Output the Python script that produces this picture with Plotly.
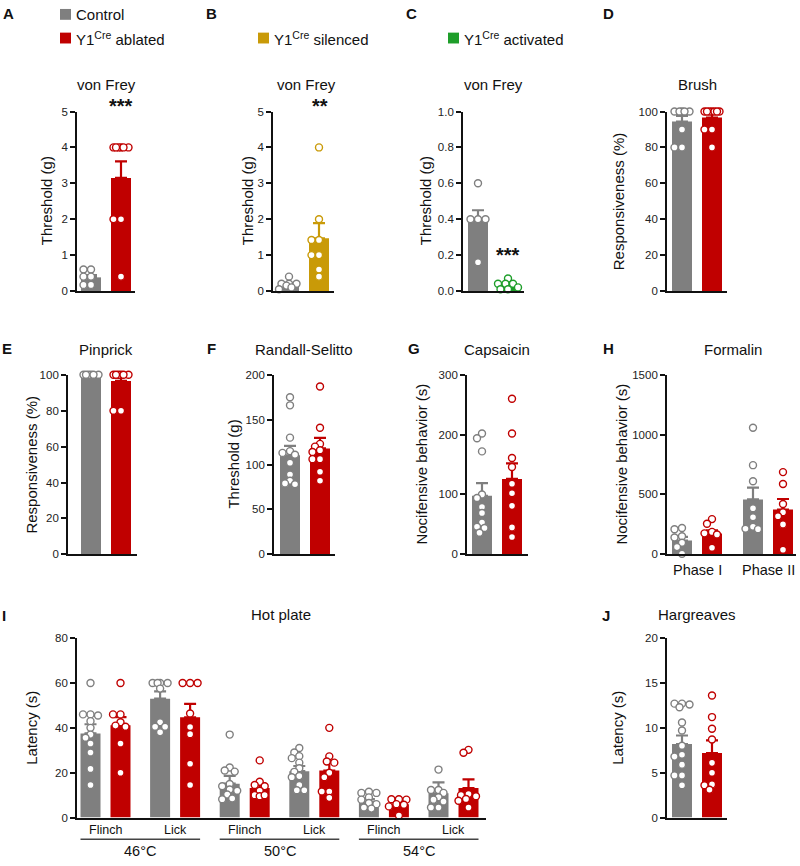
import plotly.graph_objects as go

W, H = 800, 866
FONT = "Liberation Sans, Arial, Helvetica, sans-serif"
GREY = "#7f7f7f"
RED = "#c00000"
GOLD = "#c99a08"
GREEN = "#1e9e2a"

# ---------------- data ----------------
# A  von Frey, ablation
a_ctrl_pts = [0.6, 0.6, 0.4, 0.4, 0.17, 0.17]
a_abl_pts = [4.0, 4.0, 4.0, 4.0, 4.0, 4.0, 2.0, 2.0, 0.4]
a_means = [0.38, 3.15]
a_sems = [0.06, 0.46]
# B  von Frey, silenced
b_ctrl_pts = [0.4, 0.2, 0.2, 0.2, 0.15, 0.1, 0.05]
b_sil_pts = [4.0, 2.0, 1.42, 1.42, 1.0, 1.0, 0.6, 0.4]
b_means = [0.17, 1.47]
b_sems = [0.05, 0.42]
# C  von Frey, activated
c_ctrl_pts = [0.6, 0.4, 0.4, 0.4, 0.16]
c_act_pts = [0.07, 0.04, 0.04, 0.04, 0.02, 0.01, 0.01]
c_means = [0.39, 0.033]
c_sems = [0.06, 0.01]
# D  Brush
d_ctrl_pts = [100, 100, 100, 100, 100, 90, 80, 80]
d_abl_pts = [100, 100, 100, 100, 100, 100, 100, 90, 90, 80]
d_means = [94.4, 96.6]
d_sems = [3.2, 2.2]
# E  Pinprick
e_ctrl_pts = [100, 100, 100, 100, 100, 100]
e_abl_pts = [100, 100, 100, 100, 100, 100, 80, 80]
e_means = [100, 96.6]
e_sems = [0, 2.4]
# F  Randall-Selitto
f_ctrl_pts = [175, 166, 130, 115, 113, 111, 102, 89, 82, 79, 78]
f_abl_pts = [187, 141, 123, 120, 116, 114, 106, 106, 92, 82]
f_means = [110.3, 118.0]
f_sems = [10.6, 11.7]
# G  Capsaicin
g_ctrl_pts = [202, 194, 172, 100, 94, 79, 69, 53, 46, 44, 36]
g_abl_pts = [260, 202, 161, 146, 118, 102, 81, 45, 29]
g_means = [97.8, 126.0]
g_sems = [21.0, 26.0]
# H  Formalin (Phase I, Phase II)
h_phases = ["Phase I", "Phase II"]
h_ctrl_pts = [[220, 209, 151, 140, 96, 60, 5],
              [1058, 745, 610, 385, 310, 230, 214, 210]]
h_abl_pts = [[294, 255, 187, 175, 165, 55],
             [687, 588, 420, 352, 318, 250, 38]]
h_ctrl_means = [115, 459]
h_ctrl_sems = [30, 99]
h_abl_means = [173, 374]
h_abl_sems = [27, 88]
# I  Hot plate
i_temps = ["46°C", "50°C", "54°C"]
i_measures = ["Flinch", "Lick"]
i_ctrl_pts = [[60, 46, 45.5, 46, 43, 40, 37, 35.6, 33, 29, 21.7, 14.5],
              [60, 60, 60, 60, 57.5, 42.5, 40.5, 40.5, 38],
              [37, 22.3, 21, 20.5, 15, 14, 12.5, 12, 10.3, 8.5, 8.2],
              [31, 29, 27.4, 26.5, 24.5, 22, 20.4, 18.5, 18, 14.5, 12.2, 12.2],
              [11, 11, 11.5, 9, 8, 6.5, 6, 4.5, 4],
              [21.4, 12.3, 12.3, 11, 9.1, 8, 7.2, 4.5, 4.5]]
i_abl_pts = [[60, 46, 46, 42.5, 41, 40.5, 33, 20],
             [60, 60, 60, 46.4, 40.4, 37.2, 24, 14.5],
             [25.5, 16, 14.5, 14, 12, 10, 9.5, 10],
             [40, 27.3, 25, 24.5, 20, 18, 11.6, 11.6, 8.8],
             [8.2, 8.2, 8, 6, 5.7, 5, 0.9],
             [30.2, 28.9, 10.5, 10, 9.5, 8.3, 7.5, 4.5]]
i_ctrl_means = [37.5, 53.0, 15.1, 20.7, 7.0, 10.8]
i_ctrl_sems = [4.1, 3.3, 3.5, 2.3, 1.2, 4.9]
i_abl_means = [41.2, 44.7, 13.2, 21.0, 5.9, 13.2]
i_abl_sems = [3.6, 6.0, 2.2, 4.0, 0.9, 3.8]
# J  Hargreaves
j_ctrl_pts = [12.7, 12.6, 12.7, 12.3, 10.6, 9.7, 8.0, 7.0, 6.8, 5.9, 4.7, 4.7, 3.6]
j_abl_pts = [13.6, 11.2, 9.9, 8.7, 6.1, 5.0, 3.7, 3.6, 3.1]
j_means = [8.2, 7.2]
j_sems = [0.95, 1.4]

# ---------------- helpers ----------------
UNIT = 30.0  # px per x unit (bar pair spacing)
BARW = 20.0 / UNIT


def px_x(p):
    return p / W


def px_y(p):
    return 1 - p / H


def swarm(vals, ppu, d=5.5):
    order = sorted(range(len(vals)), key=lambda i: -vals[i])
    placed = []
    offs = [0.0] * len(vals)
    cands = [0, -2.5, 2.5, -5, 5, -7.5, 7.5, -10, 10]
    for i in order:
        y = vals[i] * ppu
        best = None
        bestd, bestc = -1, 0
        for c in cands:
            md = min([((c - a) ** 2 + (y - b) ** 2) ** 0.5 for a, b in placed], default=99)
            if md >= d:
                best = c
                break
            if md > bestd:
                bestd, bestc = md, c
        if best is None:
            best = bestc
        offs[i] = best
        placed.append((best, y))
    return [o / UNIT for o in offs]


fig = go.Figure()
annotations = []
shapes = []


def add_panel(k, ax_px, lpad, rpad, top, bot, ymax, dtick, groups, ngroups=1, step=0.0,
              tickformat=None):
    xname = "x" if k == 1 else f"x{k}"
    yname = "y" if k == 1 else f"y{k}"
    maxpos = (ngroups - 1) * step + 1
    r0 = -lpad / UNIT
    r1 = maxpos + rpad / UNIT
    end_px = ax_px + (r1 - r0) * UNIT
    ppu = (bot - top) / ymax
    for gi, (means, sems, color, pts_list) in enumerate(groups):
        xs = [g * step + gi for g in range(ngroups)]
        fig.add_trace(go.Bar(
            x=xs, y=means, width=BARW, marker=dict(color=color, line=dict(width=0)),
            error_y=dict(type="data", array=sems, arrayminus=[0] * len(sems), symmetric=False,
                         color=color, thickness=2.2, width=6),
            xaxis=xname, yaxis=yname, showlegend=False, hoverinfo="skip"))
        px, py = [], []
        for xc, pts in zip(xs, pts_list):
            offs = swarm(pts, ppu)
            px += [xc + o for o in offs]
            py += pts
        fig.add_trace(go.Scatter(
            x=px, y=py, mode="markers", cliponaxis=False,
            marker=dict(size=7, color="white", line=dict(color=color, width=1.4)),
            xaxis=xname, yaxis=yname, showlegend=False, hoverinfo="skip"))
    lx = "xaxis" if k == 1 else f"xaxis{k}"
    ly = "yaxis" if k == 1 else f"yaxis{k}"
    fig.layout[lx] = dict(domain=[px_x(ax_px), px_x(end_px)], range=[r0, r1], anchor=yname,
                          showline=True, linecolor="#111", linewidth=1.8, ticks="",
                          showticklabels=False, showgrid=False, zeroline=False, fixedrange=True)
    yd = dict(domain=[px_y(bot), px_y(top)], range=[0, ymax], anchor=xname,
              showline=True, linecolor="#111", linewidth=1.8, ticks="outside", ticklen=5,
              tickwidth=1.6, tickcolor="#111", dtick=dtick, tick0=0, showgrid=False,
              zeroline=False, fixedrange=True,
              tickfont=dict(family=FONT, size=11.5, color="#222"))
    if tickformat:
        yd["tickformat"] = tickformat
    fig.layout[ly] = yd
    return (ax_px, r0)


def data_px(panel, xval):
    ax_px, r0 = panel
    return ax_px + (xval - r0) * UNIT


def text(x, y, s, size=15, bold=False, angle=0, xanchor="center"):
    if bold:
        s = f"<b>{s}</b>"
    annotations.append(dict(x=px_x(x), y=px_y(y), xref="paper", yref="paper", text=s,
                            showarrow=False, textangle=angle, xanchor=xanchor,
                            yanchor="middle", borderpad=0,
                            font=dict(family=FONT, size=size, color="#111")))


# Row 1
add_panel(1, 77, 14, 14, 107, 289, 5, 1, [([a_means[0]], [a_sems[0]], GREY, [a_ctrl_pts]),
                                          ([a_means[1]], [a_sems[1]], RED, [a_abl_pts])])
add_panel(2, 273, 16, 15, 107, 289, 5, 1, [([b_means[0]], [b_sems[0]], GREY, [b_ctrl_pts]),
                                           ([b_means[1]], [b_sems[1]], GOLD, [b_sil_pts])])
add_panel(3, 463, 15, 16, 107, 289, 1.0, 0.2, [([c_means[0]], [c_sems[0]], GREY, [c_ctrl_pts]),
                                               ([c_means[1]], [c_sems[1]], GREEN, [c_act_pts])],
          tickformat=".1f")
add_panel(4, 667, 15, 15, 107, 289, 100, 20, [([d_means[0]], [d_sems[0]], GREY, [d_ctrl_pts]),
                                              ([d_means[1]], [d_sems[1]], RED, [d_abl_pts])])
# Row 2
add_panel(5, 68, 23, 16, 374, 556, 100, 20, [([e_means[0]], [e_sems[0]], GREY, [e_ctrl_pts]),
                                             ([e_means[1]], [e_sems[1]], RED, [e_abl_pts])])
add_panel(6, 274, 16, 15, 374, 556, 200, 50, [([f_means[0]], [f_sems[0]], GREY, [f_ctrl_pts]),
                                              ([f_means[1]], [f_sems[1]], RED, [f_abl_pts])])
add_panel(7, 467, 15, 16, 374, 556, 300, 100, [([g_means[0]], [g_sems[0]], GREY, [g_ctrl_pts]),
                                               ([g_means[1]], [g_sems[1]], RED, [g_abl_pts])])
H_STEP = 71 / UNIT
pH = add_panel(8, 667, 15, 13, 374, 556, 1500, 500,
               [(h_ctrl_means, h_ctrl_sems, GREY, h_ctrl_pts),
                (h_abl_means, h_abl_sems, RED, h_abl_pts)], ngroups=2, step=H_STEP)
# Row 3
I_STEP = 69.6 / UNIT
pI = add_panel(9, 77, 13.5, 17.5, 641, 823, 80, 20,
               [(i_ctrl_means, i_ctrl_sems, GREY, i_ctrl_pts),
                (i_abl_means, i_abl_sems, RED, i_abl_pts)], ngroups=6, step=I_STEP)
add_panel(10, 667, 15, 15, 641, 823, 20, 5, [([j_means[0]], [j_sems[0]], GREY, [j_ctrl_pts]),
                                             ([j_means[1]], [j_sems[1]], RED, [j_abl_pts])])

# Panel titles
for x, y, s in [(106, 80, "von Frey"), (306, 80, "von Frey"), (493, 80, "von Frey"),
                (697, 80, "Brush"), (106, 348, "Pinprick"), (304, 348, "Randall-Selitto"),
                (497, 348, "Capsaicin"), (733, 348, "Formalin"), (281, 617, "Hot plate"),
                (697, 617, "Hargreaves")]:
    text(x, y, s, size=15)

# Y titles
for x, y, s in [(46, 198, "Threshold (g)"), (247, 198, "Threshold (g)"),
                (425, 198, "Threshold (g)"), (618, 198, "Responsiveness (%)"),
                (32, 465, "Responsiveness (%)"), (234, 465, "Threshold (g)"),
                (422, 465, "Nocifensive behavior (s)"), (622, 465, "Nocifensive behavior (s)"),
                (32, 732, "Latency (s)"), (618, 732, "Latency (s)")]:
    text(x, y, s, size=15, angle=-90)

# Panel letters
for x, y, s in [(8, 8, "A"), (211, 8, "B"), (411, 8, "C"), (608, 8, "D"),
                (7, 347, "E"), (211, 347, "F"), (414, 347, "G"), (608, 347, "H"),
                (4, 618, "I"), (606, 618, "J")]:
    text(x, y, s, size=15, bold=True)

# Significance
text(121, 101, "***", size=20, bold=True)
text(320, 101, "**", size=20, bold=True)
text(508, 253, "***", size=20, bold=True)

# Legend
for (x0, y0, col, label, tx) in [(60, 3, GREY, "Control", 75),
                                 (60, 27, RED, "Y1<sup>Cre</sup> ablated", 75),
                                 (258, 27, GOLD, "Y1<sup>Cre</sup> silenced", 273),
                                 (448, 27, GREEN, "Y1<sup>Cre</sup> activated", 463)]:
    shapes.append(dict(type="rect", xref="paper", yref="paper", x0=px_x(x0), x1=px_x(x0 + 11),
                       y0=px_y(y0 + 11), y1=px_y(y0), fillcolor=col, line=dict(width=0)))
    text(tx, y0 + 5.5, label, size=15, xanchor="left")

# Formalin phase labels
for gi, s in enumerate(h_phases):
    text(data_px(pH, gi * H_STEP + 0.5), 572, s, size=14.5)

# Hot plate labels
for ti, t in enumerate(i_temps):
    for mi, m in enumerate(i_measures):
        g = ti * 2 + mi
        text(data_px(pI, g * I_STEP + 0.5), 836, m, size=12.5)
    xa = data_px(pI, (ti * 2) * I_STEP - BARW / 2)
    xb = data_px(pI, (ti * 2 + 1) * I_STEP + 1 + BARW / 2)
    shapes.append(dict(type="line", xref="paper", yref="paper", x0=px_x(xa), x1=px_x(xb),
                       y0=px_y(845), y1=px_y(845), line=dict(color="#444", width=1.5)))
    text((xa + xb) / 2, 857, t, size=14.5)

fig.update_layout(width=W, height=H, margin=dict(l=0, r=0, t=0, b=0),
                  paper_bgcolor="white", plot_bgcolor="white", barmode="overlay",
                  annotations=annotations, shapes=shapes,
                  font=dict(family=FONT, color="#111"))
fig.write_html("out.html", config={"displayModeBar": False},
               post_script="document.documentElement.style.overflow='hidden';"
                           "document.body.style.margin='0';document.body.style.overflow='hidden';")
